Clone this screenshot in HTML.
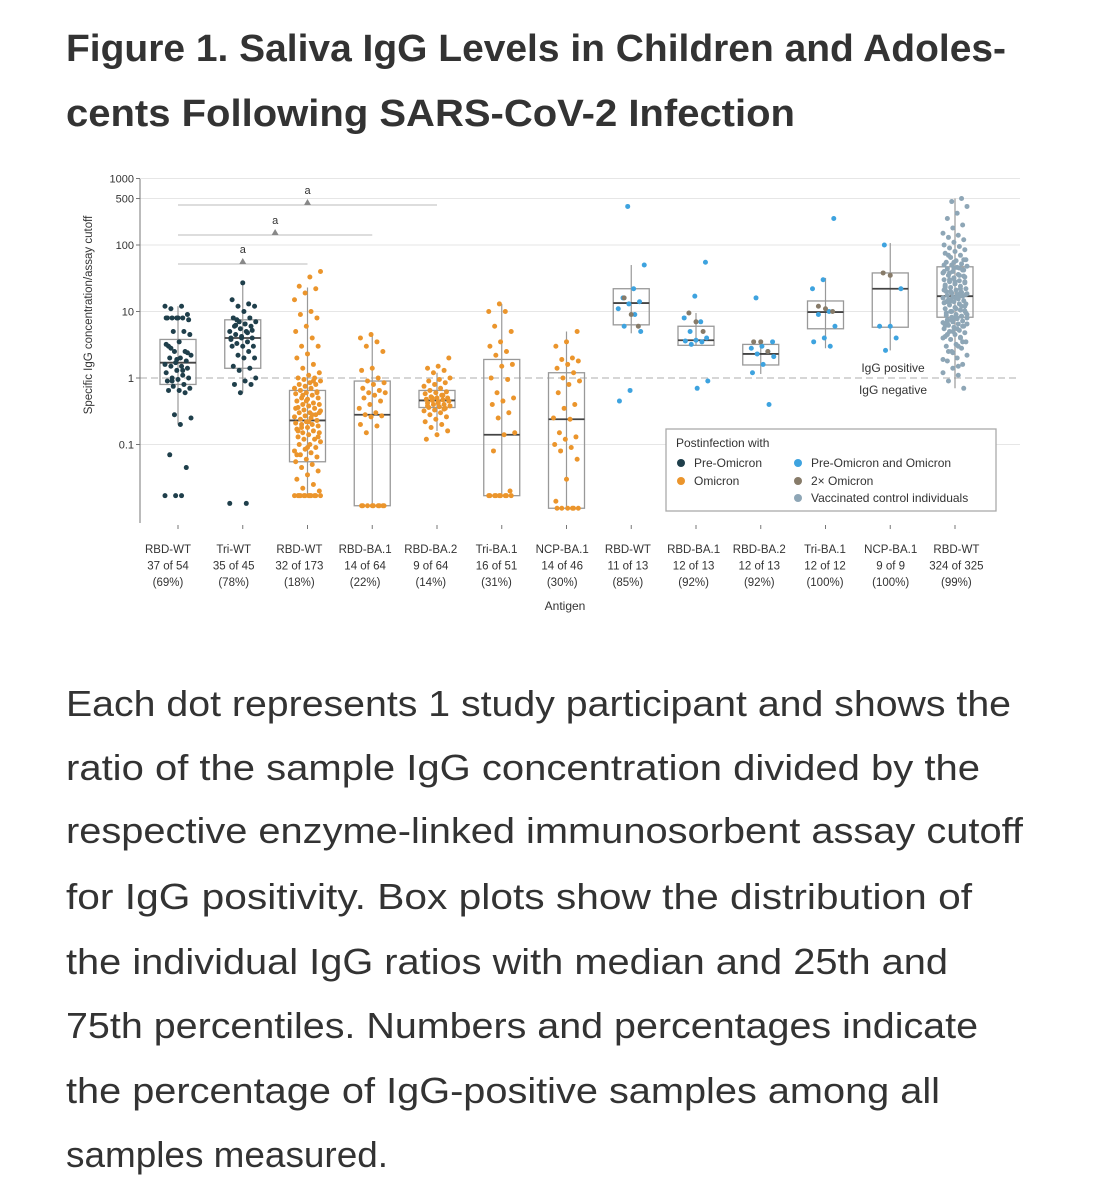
<!DOCTYPE html>
<html><head><meta charset="utf-8"><style>
html,body{margin:0;padding:0;background:#fff;}
svg{display:block;font-family:"Liberation Sans",sans-serif;}
</style></head><body>
<svg id="fig" width="1096" height="1200" viewBox="0 0 1096 1200" xmlns="http://www.w3.org/2000/svg">
<g fill="#333" font-weight="bold" font-size="38">
<text x="66" y="61" textLength="940" lengthAdjust="spacingAndGlyphs">Figure 1.  Saliva IgG Levels in Children and Adoles-</text>
<text x="66" y="126" textLength="729" lengthAdjust="spacingAndGlyphs">cents Following SARS-CoV-2 Infection</text>
</g>
<g id="chart"></g>
<g fill="#333" font-size="36">
<text x="66" y="716" textLength="945" lengthAdjust="spacingAndGlyphs">Each dot represents 1 study participant and shows the</text>
<text x="66" y="780" textLength="914" lengthAdjust="spacingAndGlyphs">ratio of the sample IgG concentration divided by the</text>
<text x="66" y="843" textLength="957" lengthAdjust="spacingAndGlyphs">respective enzyme-linked immunosorbent assay cutoff</text>
<text x="66" y="909" textLength="906" lengthAdjust="spacingAndGlyphs">for IgG positivity. Box plots show the distribution of</text>
<text x="66" y="974" textLength="882" lengthAdjust="spacingAndGlyphs">the individual IgG ratios with median and 25th and</text>
<text x="66" y="1038" textLength="912" lengthAdjust="spacingAndGlyphs">75th percentiles. Numbers and percentages indicate</text>
<text x="66" y="1103" textLength="874" lengthAdjust="spacingAndGlyphs">the percentage of IgG-positive samples among all</text>
<text x="66" y="1167" textLength="322" lengthAdjust="spacingAndGlyphs">samples measured.</text>
</g>
</svg>
<script>
const categories=["RBD-WT","Tri-WT","RBD-WT","RBD-BA.1","RBD-BA.2","Tri-BA.1","NCP-BA.1","RBD-WT","RBD-BA.1","RBD-BA.2","Tri-BA.1","NCP-BA.1","RBD-WT"];
const countLabels=["37 of 54","35 of 45","32 of 173","14 of 64","9 of 64","16 of 51","14 of 46","11 of 13","12 of 13","12 of 13","12 of 12","9 of 9","324 of 325"];
const pctLabels=["(69%)","(78%)","(18%)","(22%)","(14%)","(31%)","(30%)","(85%)","(92%)","(92%)","(100%)","(100%)","(99%)"];
const groupType=["pre","pre","omi","omi","omi","omi","omi","both","both","both","both","both","vac"];
const q1Vals=[0.8,1.4,0.055,0.012,0.36,0.017,0.011,6.3,3.1,1.57,5.5,5.8,8.2];
const medVals=[1.7,4,0.23,0.28,0.46,0.14,0.24,13.4,3.7,2.3,9.8,22,17];
const q3Vals=[3.8,7.5,0.65,0.9,0.65,1.9,1.2,22,6,3.2,14.4,38,47];
const loVals=[0.2,0.6,0.017,0.012,0.16,0.017,0.011,4.7,3.1,1.15,2.8,2.6,0.7];
const hiVals=[12,27,23,4.5,1.2,13,5,50,9.5,3.5,32,107,500];
const yTickVals=[1000,500,100,10,1,0.1];
const yTickLabels=["1000","500","100","10","1","0.1"];
const pts=[
[12,12,11,9,8,8,8,8,7.5,8,8,5,5,4.5,3.5,3,2.5,2.5,2.2,2,2,1.8,1.7,1.6,1.5,1.5,1.4,1.3,1.2,1.1,1,1,0.95,0.9,0.8,0.75,0.7,0.65,0.65,0.6,0.28,0.25,0.2,0.07,0.045,0.017,0.017,0.017,2.8,2.4,1.9,3.2,1.3,0.9],
[27,15,13,12,12,10,8,8,7,7,6.5,6,6,5.5,5,5,4.5,4,4,4,3.5,3.3,3,3,3,2.5,2.2,2,2,1.5,1.4,1.3,1,0.9,0.8,0.8,0.6,0.013,0.013,6.2,5.2,4.2,3.8,4.8,7.5],
[40,33,24,22,19,15,10,9,8,6,5,4,3,3,2.3,2,1.6,1.4,1.2,1.1,1,1,0.95,0.9,0.85,0.8,0.8,0.75,0.7,0.7,0.65,0.62,0.6,0.58,0.55,0.5,0.5,0.48,0.45,0.42,0.4,0.4,0.38,0.36,0.35,0.33,0.32,0.3,0.3,0.28,0.27,0.26,0.25,0.24,0.23,0.22,0.21,0.2,0.2,0.19,0.18,0.17,0.16,0.15,0.15,0.14,0.13,0.12,0.12,0.11,0.1,0.1,0.09,0.085,0.08,0.075,0.07,0.065,0.06,0.055,0.05,0.045,0.04,0.035,0.03,0.025,0.022,0.02,0.017,0.017,0.017,0.017,0.017,0.017,0.017,0.017,0.017,0.017,0.017,0.017,0.6,0.45,0.35,0.28,0.18,0.13,0.09,0.07,0.9,0.55,0.3,0.22,0.16],
[4.5,4,3.5,3,2.5,1.4,1.3,1,0.9,0.85,0.8,0.7,0.65,0.6,0.6,0.55,0.5,0.45,0.4,0.35,0.3,0.28,0.27,0.26,0.2,0.19,0.15,0.012,0.012,0.012,0.012,0.012,0.012,0.012,0.012,0.012],
[2,1.5,1.4,1.3,1.2,1,0.95,0.9,0.85,0.8,0.75,0.7,0.65,0.62,0.6,0.58,0.55,0.52,0.5,0.5,0.48,0.47,0.46,0.45,0.44,0.42,0.4,0.4,0.38,0.37,0.36,0.35,0.33,0.32,0.3,0.28,0.26,0.24,0.22,0.2,0.18,0.16,0.14,0.12,0.55,0.5,0.45,0.42,0.38,0.34],
[13,10,10,6,5,3.5,3,2.5,2.2,1.6,1.5,1,0.95,0.6,0.5,0.45,0.4,0.3,0.25,0.15,0.14,0.08,0.02,0.017,0.017,0.017,0.017,0.017,0.017,0.017,0.017,0.017],
[5,3.5,3,2,1.9,1.8,1.6,1.4,1.2,1,0.9,0.8,0.6,0.4,0.35,0.25,0.24,0.15,0.13,0.12,0.1,0.09,0.08,0.06,0.03,0.014,0.011,0.011,0.011,0.011,0.011,0.011],
[380,50,22,16,14,13,11,9,6,5,0.65,0.45],
[55,17,8,7,5,4,3.7,3.6,3.5,3.2,0.9,0.7],
[16,3.5,3,2.8,2.5,2.3,2.1,1.6,1.2,0.4],
[250,30,22,10,9,6,4,3.5,3],
[100,22,6,6,4,2.6],
[500,450,380,300,250,200,180,150,140,130,120,110,100,95,90,85,80,75,70,65,60,58,55,52,50,48,46,44,42,40,38,36,35,34,32,30,29,28,27,26,25,24,23,22,21,20,19.5,19,18.5,18,17.5,17,16.5,16,15.5,15,14.5,14,13.5,13,12.5,12,11.5,11,10.5,10,9.5,9,8.8,8.5,8.2,8,7.8,7.5,7.2,7,6.8,6.5,6.2,6,5.8,5.5,5.2,5,4.8,4.5,4.2,4,3.8,3.5,3.2,3,2.8,2.5,2.2,2,1.8,1.6,1.4,1.2,1.1,0.9,0.7,45,40,35,30,28,26,24,22,20,18,16,14,12,10,9,8,7,6,5,4,3,2.5,60,55,50,45,38,33,28,23,19,15,13,11,9.5,8.5,7.5,6.5,5.5,4.5,3.5,2.4,1.9,1.5,70,42,31,21,17,13.8,10.2,8.1,6.1,4.1]
];
const brownPts=[[],[],[],[],[],[],[],[16,9,6],[9.5,7,5],[3.5,3.5,2.5],[12,11,10],[38,35],[]];

const NS="http://www.w3.org/2000/svg";
const chart=document.getElementById('chart');
const X0=140,X1=1020,YTOP=179,YBOT=523;
function yScale(v){return 378-66.5*Math.log10(v);}
function xScale(i){return 178+64.75*i;}
function labelX(i){return 168+65.7*i;}
const colors={pre:"#1f3f4b",omi:"#eb952c",both:"#3ea3df",vac:"#8ea6b6",brown:"#877b69"};
function mk(tag,attrs,parent){const e=document.createElementNS(NS,tag);for(const k in attrs)e.setAttribute(k,attrs[k]);(parent||chart).appendChild(e);return e;}
function txt(s,attrs,parent){const e=mk('text',attrs,parent);e.textContent=s;return e;}

yTickVals.forEach((v,i)=>{
  const y=yScale(v);
  if(v===1){
    const l=mk('line',{x1:X0,x2:X1,y1:y,y2:y,stroke:"#c8c8c8","stroke-width":1.6,"stroke-dasharray":"7 4"});
    
    
  } else {
    const l=mk('line',{x1:X0,x2:X1,y1:y,y2:y,stroke:"#e6e6e6","stroke-width":1});
    
    
  }
  mk('line',{x1:X0-4,x2:X0,y1:y,y2:y,stroke:"#777","stroke-width":1});
  const t=txt(yTickLabels[i],{x:X0-6,y:y+4,"font-size":11,fill:"#333","text-anchor":"end"});
  
  
});
const ax=mk('line',{x1:X0,x2:X0,y1:YTOP,y2:YBOT,stroke:"#777","stroke-width":1});


const yt=txt("Specific IgG concentration/assay cutoff",{x:0,y:0,"font-size":11.5,fill:"#333","text-anchor":"middle",transform:"translate(92,315) rotate(-90)"});



const sig=[[0,2,264],[0,3,235],[0,4,205]];
sig.forEach(s=>{
  const g=mk('g',{});
  
  
  const xa=xScale(s[0]),xb=xScale(s[1]),xm=(xa+xb)/2,y=s[2];
  mk('line',{x1:xa,x2:xb,y1:y,y2:y,stroke:"#bbb","stroke-width":1},g);
  mk('path',{d:`M${xm-3.5},${y}L${xm+3.5},${y}L${xm},${y-6}Z`,fill:"#888"},g);
  txt("a",{x:xm,y:y-11,"font-size":11,fill:"#333","text-anchor":"middle"},g);
});

categories.forEach((c,i)=>{
  const g=mk('g',{});
  
  
  const cx=xScale(i),hw=18;
  mk('line',{x1:cx,x2:cx,y1:yScale(hiVals[i]),y2:yScale(loVals[i]),stroke:"#999","stroke-width":1.2},g);
  const b=mk('rect',{x:cx-hw,y:yScale(q3Vals[i]),width:hw*2,height:yScale(q1Vals[i])-yScale(q3Vals[i]),fill:"none",stroke:"#999","stroke-width":1.3},g);
  
  
  const m=mk('line',{x1:cx-hw,x2:cx+hw,y1:yScale(medVals[i]),y2:yScale(medVals[i]),stroke:"#444","stroke-width":1.8},g);
  
  
  const jw=groupType[i]==="vac"?12:13;
  pts[i].forEach((v,k)=>{
    const off=(((k*37+i*11)%23)/11-1)*jw;
    const d=mk('circle',{cx:cx+off,cy:yScale(v),r:2.5,fill:colors[groupType[i]]},g);
    
    
  });
  brownPts[i].forEach((v,k)=>{
    const off=(((k*29+5)%23)/11-1)*jw;
    const d=mk('circle',{cx:cx+off,cy:yScale(v),r:2.5,fill:colors.brown},g);
    
    
  });
  mk('line',{x1:cx,x2:cx,y1:YBOT+2,y2:YBOT+6,stroke:"#777"},g);
  const lab=mk('text',{"font-size":11.5,fill:"#333","text-anchor":"middle"},g);
  
  
  [categories[i],countLabels[i],pctLabels[i]].forEach((s,j)=>{
    const ts=mk('tspan',{x:labelX(i),y:553+j*16.5},lab);ts.textContent=s;
  });
});
const xt=txt("Antigen",{x:565,y:610,"font-size":12,fill:"#333","text-anchor":"middle"});


const p1=txt("IgG positive",{x:893,y:372,"font-size":12,fill:"#333","text-anchor":"middle"});


const p2=txt("IgG negative",{x:893,y:394,"font-size":12,fill:"#333","text-anchor":"middle"});



const lg=mk('g',{});


mk('rect',{x:666,y:429,width:330,height:82,fill:"#fff",stroke:"#aaa","stroke-width":1.3},lg);
txt("Postinfection with",{x:676,y:447,"font-size":12,fill:"#333"},lg);
const legendNames=["Pre-Omicron","Omicron","Pre-Omicron and Omicron","2× Omicron","Vaccinated control individuals"];
const legendColors=[colors.pre,colors.omi,colors.both,colors.brown,colors.vac];
const legendPos=[[681,463],[681,481],[798,463],[798,481],[798,498]];
legendNames.forEach((n,i)=>{
  const e=mk('g',{},lg);
  
  
  mk('circle',{cx:legendPos[i][0],cy:legendPos[i][1],r:4,fill:legendColors[i]},e);
  txt(n,{x:legendPos[i][0]+13,y:legendPos[i][1]+4,"font-size":12,fill:"#333"},e);
});
</script>
</body></html>
